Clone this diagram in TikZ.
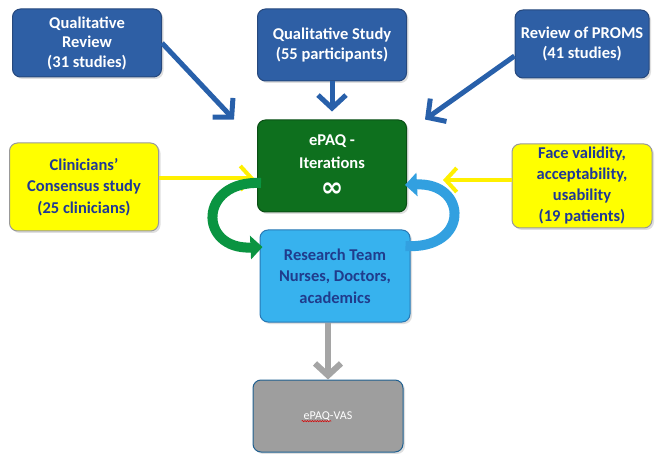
\documentclass[tikz,border=0pt]{standalone}
\usepackage{fontspec}
\setmainfont{Carlito}
\newfontfamily\symbolfont{DejaVu Sans}
\usetikzlibrary{arrows.meta,shadows,decorations.pathmorphing,calc}

\definecolor{srcblue}{RGB}{46,95,165}
\definecolor{srcborder}{RGB}{38,72,125}
\definecolor{itergreen}{RGB}{14,112,30}
\definecolor{teamblue}{RGB}{55,178,238}
\definecolor{teamborder}{RGB}{40,120,180}
\definecolor{teamtext}{RGB}{32,60,140}
\definecolor{inputyellow}{RGB}{255,255,0}
\definecolor{inputtext}{RGB}{31,56,150}
\definecolor{vasgrey}{RGB}{158,158,158}
\definecolor{arrowblue}{RGB}{40,96,170}
\definecolor{arrowyellow}{RGB}{255,240,0}
\definecolor{arrowgrey}{RGB}{165,165,165}
\definecolor{loopgreen}{RGB}{10,148,65}
\definecolor{loopblue}{RGB}{50,160,224}

\begin{document}
\begin{tikzpicture}[x=1pt,y=-1pt,
    box/.style={rectangle,rounded corners=8pt,draw,line width=1pt,align=center,
      font=\bfseries\fontsize{16.5}{19.5}\selectfont,
      drop shadow={opacity=0.25,shadow xshift=2pt,shadow yshift=-2pt}},
    source/.style={box,fill=srcblue,draw=srcborder,text=white},
    input/.style={box,fill=inputyellow,draw=black!40,text=inputtext,
      font=\bfseries\fontsize{16.5}{21.5}\selectfont},
    blue arrow/.style={draw=arrowblue,line width=5pt,-{Straight Barb[length=13pt,width=28pt]}},
    yellow arrow/.style={draw=arrowyellow,line width=4pt,-{Straight Barb[length=11pt,width=24pt]}},
    loop arrow/.style={line width=10pt,-{Triangle[length=12pt,width=23pt]}}]

  \useasboundingbox (0,0) rectangle (658,454);

  % sources on top
  \node[source,minimum width=149pt,minimum height=68pt] (qrev) at (87,43) {Qualitative\\Review\\(31 studies)};
  \node[source,minimum width=149pt,minimum height=72pt] (qstudy) at (332,45) {Qualitative Study\\(55 participants)};
  \node[source,minimum width=134pt,minimum height=68pt] (proms) at (582,44) {Review of PROMS\\(41 studies)};

  % the loop
  \node[box,fill=itergreen,draw=itergreen!70!black,text=white,minimum width=149pt,minimum height=92pt,
        font=\bfseries\fontsize{16.5}{23}\selectfont] (iter) at (332,166)
        {ePAQ -\\Iterations\\[5pt]{\symbolfont\bfseries\fontsize{27}{24}\selectfont ∞}};
  \node[box,fill=teamblue,draw=teamborder,text=teamtext,minimum width=150pt,minimum height=92pt,
        font=\bfseries\fontsize{16.5}{21.5}\selectfont] (team) at (335,276)
        {Research Team\\Nurses, Doctors,\\academics};

  % side inputs
  \node[input,minimum width=149pt,minimum height=88pt] (clin) at (84,187) {Clinicians'\\Consensus study\\(25 clinicians)};
  \node[input,minimum width=140pt,minimum height=84pt,
        font=\bfseries\fontsize{16.5}{21}\selectfont] (face) at (582,186) {Face validity,\\acceptability,\\usability\\(19 patients)};

  % result
  \node[box,fill=vasgrey,draw=teamborder!80!black,minimum width=150pt,minimum height=72pt] (vas) at (328,416) {};
  \node[text=white,font=\fontsize{12}{14}\selectfont] (vaslabel) at (vas.center) {ePAQ-VAS};
  \draw[red!85!black,line width=0.6pt,decorate,decoration={snake,amplitude=0.6pt,segment length=2.5pt}]
    ($(vaslabel.base west)+(1.5,2)$) -- ($(vaslabel.base west)!0.56!(vaslabel.base east)+(0,2)$);

  \draw[blue arrow] (qrev.east) -- ([shift={(-23,0)}]iter.north west);
  \draw[blue arrow,shorten >=8pt] (qstudy.south) -- (qstudy.south |- iter.north);
  \draw[blue arrow] ([shift={(0,12)}]proms.west) -- ([shift={(18,0)}]iter.north east);

  \draw[yellow arrow] ([shift={(0,-9)}]clin.east) -- ([shift={(-3,12)}]iter.west);
  \draw[yellow arrow] ([shift={(0,-6)}]face.west) -- ([shift={(36,14)}]iter.east);

  \draw[loop arrow,draw=loopgreen] ([shift={(4,17)}]iter.west) .. controls (198,180) and (198,250) .. ([shift={(3,-29)}]team.west);
  \draw[loop arrow,draw=loopblue] ([shift={(-5,-30)}]team.east) .. controls (470,250) and (468,182) .. ([shift={(-2,19)}]iter.east);

  \draw[draw=arrowgrey,line width=6pt,-{Straight Barb[length=12pt,width=26pt]}] (team.south -| vas.north) -- (vas.north);

\end{tikzpicture}
\end{document}
